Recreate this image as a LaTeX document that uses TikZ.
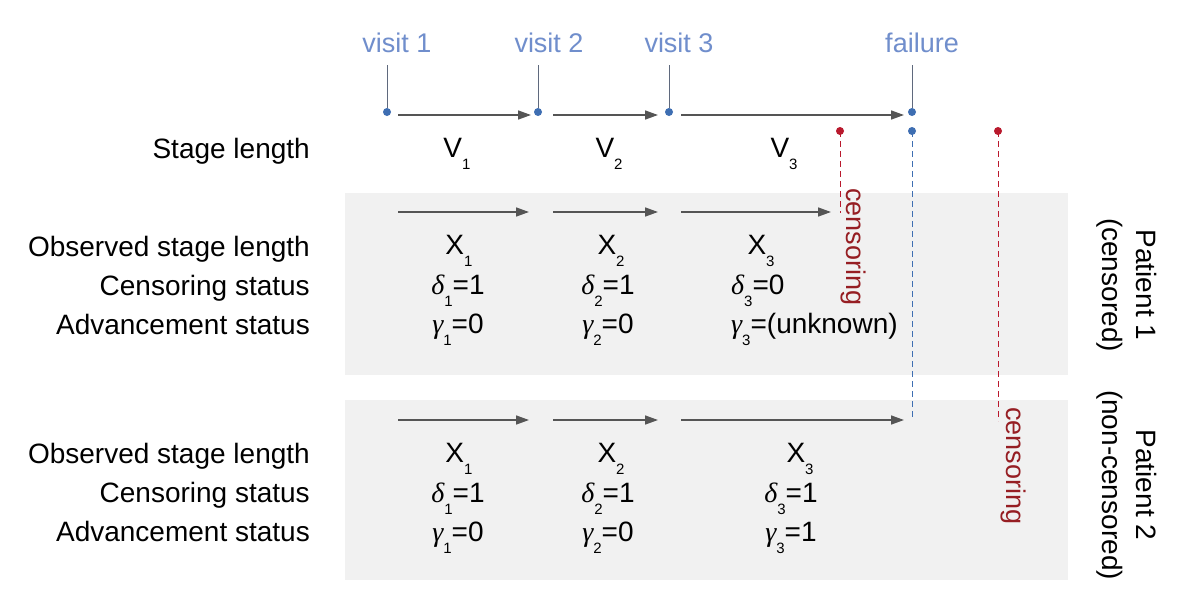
\documentclass[tikz,border=0pt]{standalone}
\usepackage{fontspec}
\setmainfont{Liberation Sans}
\newfontfamily\grkfont{Liberation Serif}
\usetikzlibrary{arrows.meta}
\definecolor{visitblue}{RGB}{112,142,204}
\definecolor{dotblue}{RGB}{62,110,178}
\definecolor{stemgray}{RGB}{95,105,125}
\definecolor{dotred}{RGB}{185,25,45}
\definecolor{txtred}{RGB}{150,30,35}
\definecolor{arrgray}{RGB}{85,85,85}
\definecolor{boxgray}{RGB}{241,241,241}
\newcommand{\sbx}[1]{\raisebox{-12pt}{\fontsize{15}{15}\selectfont #1}}
\newcommand{\dlt}{{\grkfont\itshape δ}}
\newcommand{\gmm}{{\grkfont\itshape γ}}
\begin{document}
\begin{tikzpicture}[x=1pt,y=-1pt,
  lbl/.style={font=\fontsize{28}{34}\selectfont, inner sep=0pt, anchor=base east},
  val/.style={font=\fontsize{28}{34}\selectfont, inner sep=0pt, anchor=base},
  visitlbl/.style={font=\fontsize{27}{32}\selectfont, text=visitblue, inner sep=0pt, anchor=base},
  bdot/.style={circle, fill=dotblue, inner sep=0pt, minimum size=8pt},
  rdot/.style={circle, fill=dotred, inner sep=0pt, minimum size=8pt},
  stem/.style={draw=stemgray, line width=1pt},
  arr/.style={draw=arrgray, line width=1.5pt, -{Triangle[length=13pt,width=9pt]}},
  bdash/.style={draw=dotblue, line width=1pt, dash pattern=on 6pt off 4pt},
  rdash/.style={draw=dotred, line width=1pt, dash pattern=on 6pt off 4pt},
  cens/.style={font=\fontsize{27}{32}\selectfont, text=txtred, inner sep=0pt, rotate=-90, anchor=base west},
  patient/.style={font=\fontsize{28}{34}\selectfont, inner sep=0pt, rotate=-90, align=center, anchor=center},
  panel/.style={fill=boxgray, draw=none}]
\useasboundingbox (0,0) rectangle (1198,608);
\fill[white] (0,0) rectangle (1198,608);

% panels
\path[panel] (345,193) rectangle (1068,375);
\path[panel] (345,400) rectangle (1068,580);

% visit labels and stems
\node[visitlbl] (v1) at (397,52) {visit 1};
\node[visitlbl] (v2) at (549,52) {visit 2};
\node[visitlbl] (v3) at (679,52) {visit 3};
\node[visitlbl] (vf) at (922,52) {failure};
\node[bdot] (d1) at (387,112) {};
\node[bdot] (d2) at (538,112) {};
\node[bdot] (d3) at (669,112) {};
\node[bdot] (df) at (912,112) {};
\draw[stem, shorten >=13pt] (d1) -- (d1 |- v1.base);
\draw[stem, shorten >=13pt] (d2) -- (d2 |- v2.base);
\draw[stem, shorten >=13pt] (d3) -- (d3 |- v3.base);
\draw[stem, shorten >=13pt] (df) -- (df |- vf.base);

% top arrows
\coordinate (t1s) at (398,115); \coordinate (t1e) at (531,115);
\coordinate (t2s) at (553,115); \coordinate (t2e) at (658,115);
\coordinate (t3s) at (681,115); \coordinate (t3e) at (904,115);
\draw[arr] (t1s) -- (t1e);
\draw[arr] (t2s) -- (t2e);
\draw[arr] (t3s) -- (t3e);

% lower dots and dashed lines
\node[rdot] (r1) at (840,131) {};
\node[bdot] (b1) at (912,131) {};
\node[rdot] (r2) at (998,131) {};
\coordinate (r1e) at (840,213);
\coordinate (b1e) at (912,419);
\coordinate (r2e) at (998,421);
\draw[rdash] (r1.center) -- (r1e);
\draw[bdash] (b1.center) -- (b1e);
\draw[rdash] (r2.center) -- (r2e);

% stage length row
\node[lbl] (sl) at (310,158) {Stage length};
\node[val] (V1) at (457,157) {V\sbx{1}};
\node[val] (V2) at (609,157) {V\sbx{2}};
\node[val] (V3) at (784,157) {V\sbx{3}};

% patient 1
\coordinate (p1a1s) at (398,212); \coordinate (p1a1e) at (529,212);
\coordinate (p1a2s) at (553,212); \coordinate (p1a2e) at (658,212);
\coordinate (p1a3s) at (681,212); \coordinate (p1a3e) at (831,212);
\draw[arr] (p1a1s) -- (p1a1e);
\draw[arr] (p1a2s) -- (p1a2e);
\draw[arr] (p1a3s) -- (p1a3e);
\node[lbl] (o1) at (310,256) {Observed stage length};
\node[lbl] (c1) at (310,295) {Censoring status};
\node[lbl] (a1) at (310,334) {Advancement status};
\node[val] (p1x1) at (459,254) {X\sbx{1}};
\node[val] (p1x2) at (611,254) {X\sbx{2}};
\node[val] (p1x3) at (761,254) {X\sbx{3}};
\node[val] (p1d1) at (458,294) {\dlt\sbx{1}=1};
\node[val] (p1d2) at (608,294) {\dlt\sbx{2}=1};
\node[val, anchor=base west] (p1d3) at (731,294) {\dlt\sbx{3}=0};
\node[val] (p1g1) at (458,333) {\gmm\sbx{1}=0};
\node[val] (p1g2) at (608,333) {\gmm\sbx{2}=0};
\node[val, anchor=base west] (p1g3) at (731,333) {\gmm\sbx{3}=(unknown)};
\node[cens] (cs1) at (846,188) {censoring};
\node[patient] (pt1) at (1127,285) {Patient 1\\(censored)};

% patient 2
\coordinate (p2a1s) at (398,420); \coordinate (p2a1e) at (529,420);
\coordinate (p2a2s) at (553,420); \coordinate (p2a2e) at (658,420);
\coordinate (p2a3s) at (681,420); \coordinate (p2a3e) at (904,420);
\draw[arr] (p2a1s) -- (p2a1e);
\draw[arr] (p2a2s) -- (p2a2e);
\draw[arr] (p2a3s) -- (p2a3e);
\node[lbl] (o2) at (310,463) {Observed stage length};
\node[lbl] (c2) at (310,502) {Censoring status};
\node[lbl] (a2) at (310,541) {Advancement status};
\node[val] (p2x1) at (459,462) {X\sbx{1}};
\node[val] (p2x2) at (611,462) {X\sbx{2}};
\node[val] (p2x3) at (800,462) {X\sbx{3}};
\node[val] (p2d1) at (458,502) {\dlt\sbx{1}=1};
\node[val] (p2d2) at (608,502) {\dlt\sbx{2}=1};
\node[val] (p2d3) at (791,502) {\dlt\sbx{3}=1};
\node[val] (p2g1) at (458,541) {\gmm\sbx{1}=0};
\node[val] (p2g2) at (608,541) {\gmm\sbx{2}=0};
\node[val] (p2g3) at (791,541) {\gmm\sbx{3}=1};
\node[cens] (cs2) at (1006,407) {censoring};
\node[patient] (pt2) at (1127,485) {Patient 2\\(non-censored)};
\end{tikzpicture}
\end{document}
